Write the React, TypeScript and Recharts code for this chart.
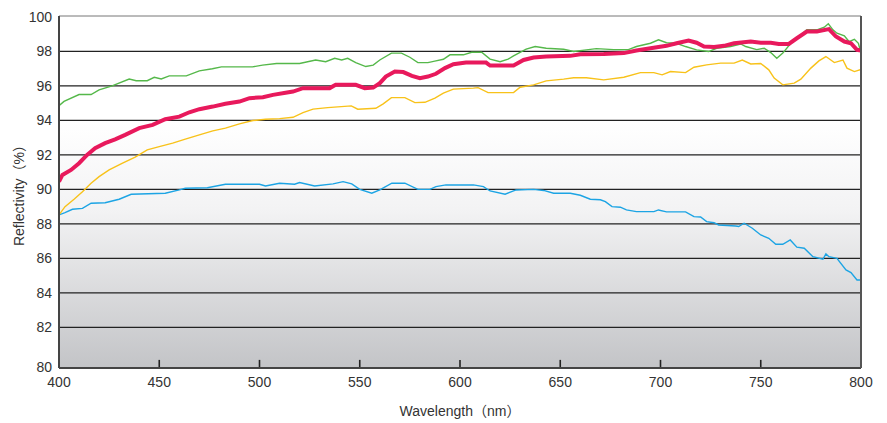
import { CartesianGrid, Line, LineChart, ReferenceLine, XAxis, YAxis } from "recharts";

document.body.style.margin = "0";

// [wavelength nm, reflectivity %]
const greenSeries: [number, number][] = [
  [400, 94.85], [402.5, 95.1], [410, 95.5], [416, 95.5], [420, 95.77], [426.5, 96.0], [435, 96.4],
  [438.5, 96.3], [444, 96.3], [447.5, 96.5], [451, 96.4], [455, 96.58], [463.5, 96.58], [470, 96.87],
  [476.5, 96.99], [481, 97.1], [496.5, 97.1], [501.5, 97.2], [508.5, 97.3], [520, 97.3], [528, 97.5],
  [533, 97.4], [537.5, 97.6], [541, 97.5], [544, 97.6], [548, 97.35], [553, 97.12], [556.7, 97.2],
  [560, 97.5], [565.8, 97.9], [570.8, 97.9], [575, 97.66], [579, 97.35], [584, 97.35], [588, 97.45],
  [591.7, 97.54], [595, 97.8], [601.7, 97.8], [605.8, 97.95], [610.8, 97.95], [615, 97.55], [620, 97.4],
  [624, 97.55], [626.7, 97.74], [633, 98.13], [637.5, 98.28], [643, 98.18], [651.7, 98.12], [656.7, 97.99],
  [663, 98.09], [668, 98.16], [676.7, 98.1], [684, 98.1], [688, 98.28], [695, 98.47], [699, 98.67],
  [703, 98.5], [708, 98.47], [712.5, 98.28], [718, 98.09], [724, 97.99], [728, 98.18], [735, 98.28],
  [740, 98.43], [742.5, 98.28], [748, 98.1], [751.7, 98.18], [755, 97.93], [758, 97.6], [761, 97.9],
  [765, 98.47], [770, 98.96], [773, 99.25], [778, 99.25], [781.7, 99.4], [783.7, 99.6], [786, 99.25],
  [788, 99.05], [791.7, 98.9], [794, 98.57], [796.7, 98.7], [798.7, 98.47], [800, 97.9],
];

const redSeries: [number, number][] = [
  [400, 90.45], [401.7, 90.84], [406, 91.13], [410, 91.52], [414, 92.0], [418, 92.39], [423, 92.68],
  [428, 92.9], [433, 93.16], [440, 93.55], [446.7, 93.74], [453, 94.07], [460, 94.22], [465, 94.47],
  [470, 94.65], [476.7, 94.8], [483, 94.96], [490, 95.09], [495, 95.29], [501.7, 95.34], [506.7, 95.48],
  [513, 95.6], [516.7, 95.67], [521.7, 95.87], [535, 95.87], [538, 96.06], [548, 96.06], [552.5, 95.87],
  [556.7, 95.9], [560, 96.16], [563, 96.54], [567.5, 96.83], [571.7, 96.8], [576, 96.58], [580, 96.45],
  [584, 96.54], [588, 96.7], [592.5, 97.03], [596.7, 97.26], [603, 97.35], [613, 97.35], [615, 97.18],
  [626.7, 97.18], [631.7, 97.5], [636.7, 97.64], [643, 97.7], [655, 97.74], [660, 97.83], [671.7, 97.85],
  [681.7, 97.9], [688, 98.05], [695, 98.18], [703, 98.32], [708, 98.47], [714, 98.63], [718, 98.5],
  [721.7, 98.28], [726.7, 98.25], [731.7, 98.32], [736.7, 98.47], [745, 98.57], [750, 98.5], [755, 98.5],
  [759, 98.43], [764, 98.43], [768, 98.76], [773, 99.15], [778, 99.15], [784, 99.29], [787.5, 98.86],
  [791.7, 98.57], [795, 98.47], [798, 98.09], [800, 98.05],
];

const yellowSeries: [number, number][] = [
  [400, 88.52], [403, 89.0], [407.5, 89.43], [411.7, 89.87], [416, 90.36], [420, 90.74], [425, 91.13],
  [431.7, 91.52], [438, 91.87], [444, 92.29], [450, 92.48], [456.7, 92.68], [463, 92.91], [470, 93.16],
  [476.7, 93.39], [483, 93.55], [490, 93.8], [496.7, 93.99], [503, 94.07], [510, 94.1], [516.7, 94.18],
  [521.7, 94.45], [526.7, 94.65], [534, 94.74], [545.8, 94.84], [549, 94.65], [558, 94.7], [561.7, 94.96],
  [565.8, 95.32], [572.5, 95.32], [577.5, 95.03], [582.5, 95.05], [587.5, 95.29], [591.7, 95.58],
  [596.7, 95.81], [606.7, 95.87], [609, 95.9], [614, 95.61], [626.7, 95.61], [630, 95.92], [636.7, 96.06],
  [643, 96.29], [651.7, 96.39], [656.7, 96.47], [663, 96.47], [671.7, 96.35], [681.7, 96.5], [690, 96.77],
  [696.7, 96.77], [700.8, 96.64], [705, 96.83], [712.5, 96.77], [716.7, 97.08], [723, 97.22], [730, 97.32],
  [736.7, 97.32], [740.8, 97.5], [745, 97.27], [750, 97.3], [754, 96.93], [756.7, 96.45], [761, 96.06],
  [766.7, 96.16], [770, 96.39], [775, 97.03], [779, 97.45], [782.5, 97.7], [786.7, 97.35], [791, 97.5],
  [793, 97.03], [796.7, 96.83], [800, 96.95],
];

const blueSeries: [number, number][] = [
  [400, 88.52], [403, 88.66], [406.7, 88.85], [411.7, 88.9], [416, 89.2], [423, 89.23], [430, 89.43],
  [436, 89.72], [453, 89.78], [460, 89.97], [463, 90.07], [474, 90.1], [483, 90.3], [500, 90.3],
  [503, 90.2], [510, 90.36], [517.5, 90.3], [520, 90.4], [527.5, 90.2], [536.7, 90.32], [541.7, 90.45],
  [546, 90.32], [550, 90.0], [556, 89.78], [560, 89.97], [566, 90.36], [572.5, 90.36], [579, 90.0],
  [585, 90.0], [588, 90.16], [593, 90.26], [606.7, 90.26], [611.7, 90.16], [615, 89.91], [622.5, 89.72],
  [628, 89.97], [636.7, 90.0], [641.7, 89.94], [646.7, 89.78], [655, 89.78], [660, 89.66], [665, 89.43],
  [670, 89.4], [672.5, 89.29], [675.8, 89.0], [680, 88.97], [683, 88.81], [688, 88.71], [696.7, 88.71],
  [699, 88.81], [703, 88.7], [712.5, 88.7], [716.7, 88.42], [720, 88.4], [723, 88.13], [726.7, 88.07],
  [729, 87.94], [737.5, 87.88], [739, 87.85], [741.7, 88.04], [745.8, 87.75], [750, 87.36], [754, 87.17],
  [757.5, 86.82], [761, 86.82], [764.7, 87.07], [768, 86.65], [771.7, 86.59], [776, 86.1], [781, 85.95],
  [782.5, 86.26], [784, 86.1], [788, 86.0], [792.5, 85.33], [795, 85.18], [798, 84.75], [800, 84.75],
];

const xTicks = [400, 450, 500, 550, 600, 650, 700, 750, 800];
const innerXTicks = [450, 500, 550, 600, 650, 700, 750];
const yTicks = [80, 82, 84, 86, 88, 90, 92, 94, 96, 98, 100];
const gridValues = [82, 84, 86, 88, 90, 92, 94, 96, 98];

const Y_MIN = 79.65;
const Y_MAX = 100.05;
const TICK_TOP = 80.12; // inner tick mark height on the bottom frame

const font = "'Liberation Sans', Arial, 'Noto Sans CJK JP', sans-serif";

const toPoints = (s: [number, number][]) => s.map(([nm, v]) => ({ nm, v }));

function XTick(props: any) {
  const { x, y, payload } = props;
  return (
    <text x={x} y={y + 19} textAnchor="middle" fontSize={14} fill="#333" fontFamily={font}>
      {payload.value}
    </text>
  );
}

function YTick(props: any) {
  const { x, y, payload } = props;
  const shift = payload.value === 80 ? 5 : 0;
  return (
    <text x={x} y={y + shift} dy="0.36em" textAnchor="end" fontSize={14} fill="#333" fontFamily={font}>
      {payload.value}
    </text>
  );
}

export default function App() {
  return (
    <div style={{ position: "relative", width: 887, height: 423, background: "#fff" }}>
      <svg width={0} height={0} style={{ position: "absolute" }}>
        <defs>
          <linearGradient id="plotBg" x1="0" y1="0" x2="0" y2="1">
            <stop offset="0%" stopColor="#ffffff" />
            <stop offset="30%" stopColor="#ffffff" />
            <stop offset="55%" stopColor="#f3f3f4" />
            <stop offset="100%" stopColor="#c3c4c7" />
          </linearGradient>
        </defs>
      </svg>
      <LineChart width={887} height={423} margin={{ top: 16, right: 0, bottom: 0, left: 0 }}>
        <CartesianGrid
          xAxisId="b"
          yAxisId="l"
          fill="url(#plotBg)"
          vertical={false}
          horizontal={false}
        />
        <XAxis
          xAxisId="b"
          dataKey="nm"
          type="number"
          domain={[400, 800]}
          ticks={xTicks}
          allowDataOverflow
          height={55}
          tickSize={0}
          tickMargin={0}
          tickLine={false}
          axisLine={{ stroke: "#444", strokeWidth: 2 }}
          tick={<XTick />}
          label={{
            value: "Wavelength（nm）",
            position: "insideBottom",
            offset: 7,
            fontSize: 14,
            fill: "#333",
            fontFamily: font,
          }}
        />
        <YAxis
          yAxisId="l"
          type="number"
          domain={[Y_MIN, Y_MAX]}
          ticks={yTicks}
          allowDataOverflow
          width={59}
          tickSize={0}
          tickMargin={7}
          tickLine={false}
          axisLine={{ stroke: "#444", strokeWidth: 2 }}
          tick={<YTick />}
          label={{
            value: "Reflectivity（%）",
            angle: -90,
            position: "insideLeft",
            offset: 19,
            fontSize: 14,
            fill: "#333",
            fontFamily: font,
            style: { textAnchor: "middle" },
          }}
        />
        <YAxis
          yAxisId="r"
          orientation="right"
          type="number"
          domain={[Y_MIN, Y_MAX]}
          width={26}
          tick={false}
          tickLine={false}
          axisLine={{ stroke: "#555", strokeWidth: 2 }}
        />
        {gridValues.map((v) => (
          <ReferenceLine key={`g${v}`} xAxisId="b" yAxisId="l" y={v} stroke="#222" strokeWidth={1.2} />
        ))}
        <ReferenceLine xAxisId="b" yAxisId="l" y={Y_MAX} stroke="#777" strokeWidth={1} />
        {innerXTicks.map((t) => (
          <Line
            key={`t${t}`}
            xAxisId="b"
            yAxisId="l"
            data={[{ nm: t, v: Y_MIN }, { nm: t, v: TICK_TOP }]}
            dataKey="v"
            type="linear"
            stroke="#222"
            strokeWidth={1.6}
            dot={false}
            activeDot={false}
            legendType="none"
            isAnimationActive={false}
          />
        ))}
        <Line
          xAxisId="b"
          yAxisId="l"
          data={toPoints(blueSeries)}
          dataKey="v"
          type="linear"
          stroke="#1ca4e4"
          strokeWidth={1.4}
          dot={false}
          isAnimationActive={false}
        />
        <Line
          xAxisId="b"
          yAxisId="l"
          data={toPoints(yellowSeries)}
          dataKey="v"
          type="linear"
          stroke="#f8c21a"
          strokeWidth={1.4}
          dot={false}
          isAnimationActive={false}
        />
        <Line
          xAxisId="b"
          yAxisId="l"
          data={toPoints(greenSeries)}
          dataKey="v"
          type="linear"
          stroke="#55b84a"
          strokeWidth={1.4}
          dot={false}
          isAnimationActive={false}
        />
        <Line
          xAxisId="b"
          yAxisId="l"
          data={toPoints(redSeries)}
          dataKey="v"
          type="linear"
          stroke="#e8195c"
          strokeWidth={4}
          dot={false}
          isAnimationActive={false}
        />
      </LineChart>
    </div>
  );
}
